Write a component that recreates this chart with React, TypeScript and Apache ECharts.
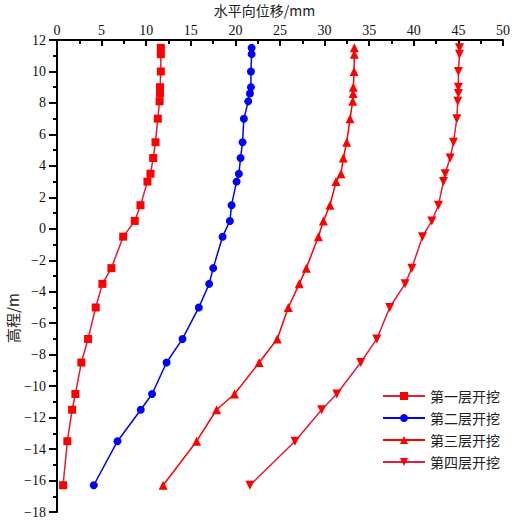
import React, { useEffect, useRef } from "react";
import * as echarts from "echarts";

const elevations = [11.5, 11.1, 10, 9, 8.6, 8.1, 7, 5.5, 4.5, 3.5, 3, 1.5, 0.5, -0.5, -2.5, -3.5, -5, -7, -8.5, -10.5, -11.5, -13.5, -16.3];
const stage1 = [11.64, 11.64, 11.64, 11.55, 11.55, 11.5, 11.3, 11.04, 10.78, 10.48, 10.14, 9.36, 8.72, 7.42, 6.1, 5.09, 4.34, 3.48, 2.73, 2.06, 1.69, 1.16, 0.68];
const stage2 = [21.82, 21.82, 21.74, 21.74, 21.63, 21.44, 20.95, 20.8, 20.58, 20.39, 20.13, 19.57, 19.38, 18.56, 17.51, 17.06, 15.9, 14.07, 12.28, 10.66, 9.39, 6.78, 4.12];
const stage3 = [33.33, 33.33, 33.3, 33.22, 33.2, 33.15, 32.85, 32.48, 32.1, 31.84, 31.28, 30.6, 29.86, 29.3, 27.95, 27.16, 25.93, 24.69, 22.67, 19.9, 17.89, 15.65, 11.9];
const stage4 = [45.12, 45.12, 45.0, 45.0, 45.0, 44.93, 44.82, 44.45, 44.07, 43.51, 43.32, 42.76, 42.02, 40.97, 39.78, 39.02, 37.3, 35.85, 34.05, 31.36, 29.67, 26.68, 21.63];
const seriesNames = ["第一层开挖", "第二层开挖", "第三层开挖", "第四层开挖"];
const xAxisTitle = "水平向位移/mm";
const yAxisTitle = "高程/m";

const numFont = "'Liberation Serif', 'Noto Sans CJK SC', serif";
const cjkFont = "'Noto Sans CJK SC', 'Liberation Serif', serif";

export default function App() {
  const ref = useRef<HTMLDivElement>(null);
  useEffect(() => {
    if (!ref.current) return;
    const chart = echarts.init(ref.current, null, { renderer: "svg" });
    const pair = (xs: number[]) => xs.map((x, i) => [x, elevations[i]]);
    const mk = (name: string, data: number[], symbol: string, color: string, lineColor: string, size: number) => ({
      name,
      type: "line",
      data: pair(data),
      symbol,
      symbolSize: size,
      showSymbol: true,
      itemStyle: { color },
      lineStyle: { color: lineColor, width: 1.5 },
      emphasis: { disabled: true },
    });
    chart.setOption({
      animation: false,
      backgroundColor: "#ffffff",
      grid: { left: 57, right: 26, top: 40, bottom: 11 },
      xAxis: {
        type: "value",
        position: "top",
        min: 0,
        max: 50,
        interval: 5,
        axisLine: { show: true, onZero: false, lineStyle: { color: "#000", width: 2 } },
        axisTick: { show: true, inside: true, length: 6, lineStyle: { color: "#000", width: 2 } },
        minorTick: { show: true, splitNumber: 2, length: 4, lineStyle: { color: "#000", width: 2 } },
        splitLine: { show: false },
        axisLabel: { color: "#111", fontSize: 14, fontFamily: numFont, margin: 3 },
      },
      yAxis: {
        type: "value",
        min: -18,
        max: 12,
        interval: 2,
        axisLine: { show: true, onZero: false, lineStyle: { color: "#000", width: 2 } },
        axisTick: { show: true, inside: false, length: 8, lineStyle: { color: "#000", width: 2 } },
        minorTick: { show: true, splitNumber: 2, length: 4, lineStyle: { color: "#000", width: 2 } },
        splitLine: { show: false },
        axisLabel: {
          color: "#111",
          fontSize: 14,
          fontFamily: numFont,
          margin: 11,
          formatter: (v: number) => String(v).replace("-", "\u2212"),
        },
      },
      legend: {
        orient: "vertical",
        left: 377,
        top: 384,
        itemWidth: 42,
        itemHeight: 10,
        itemGap: 8,
        textStyle: { fontSize: 14, fontFamily: cjkFont, color: "#222" },
        data: seriesNames,
      },
      graphic: [
        {
          type: "text",
          left: "center",
          top: 3,
          style: { text: xAxisTitle, fontSize: 14, fontFamily: cjkFont, fill: "#222" },
        },
        {
          type: "text",
          x: 5,
          y: 343,
          rotation: Math.PI / 2,
          style: { text: yAxisTitle, fontSize: 15, fontFamily: cjkFont, fill: "#222" },
        },
      ],
      series: [
        mk(seriesNames[0], stage1, "rect", "#ff0000", "#e8173c", 8),
        mk(seriesNames[1], stage2, "circle", "#0000ff", "#0000ff", 8),
        mk(seriesNames[2], stage3, "triangle", "#ff0000", "#ff0000", 9),
        mk(seriesNames[3], stage4, "path://M0,0 L10,0 L5,9 Z", "#ff0000", "#e8173c", 9),
      ],
    });
    return () => chart.dispose();
  }, []);
  return <div ref={ref} style={{ position: "fixed", left: 0, top: 0, width: 529, height: 523 }} />;
}
